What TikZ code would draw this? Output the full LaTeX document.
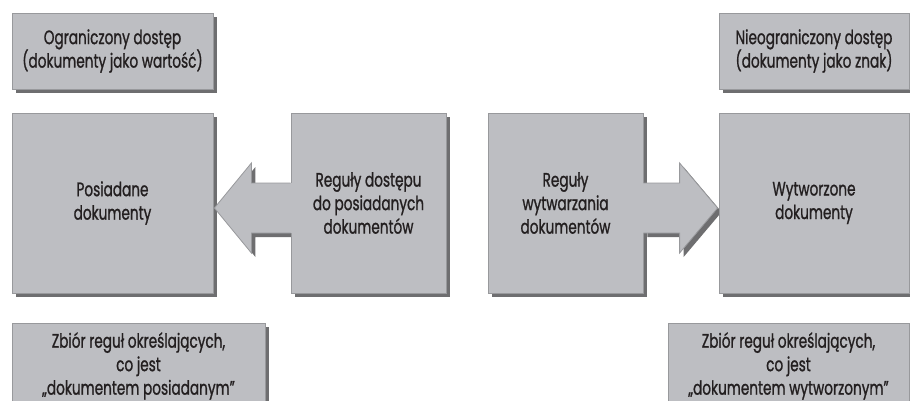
\documentclass[tikz,border=0pt]{standalone}
\usepackage{fontspec}
\setmainfont[FakeStretch=0.7, FakeBold=1]{Poppins}
\usetikzlibrary{calc,shadows}
\definecolor{boxfill}{RGB}{189,190,194}
\definecolor{boxline}{RGB}{152,153,156}
\definecolor{shadowgray}{RGB}{110,110,112}
\definecolor{ink}{RGB}{35,31,32}
\pgfdeclarelayer{cien}
\pgfdeclarelayer{wierzch}
\pgfsetlayers{cien,main,wierzch}
\begin{document}
\begin{tikzpicture}[x=1pt, y=-1pt, font=\fontsize{19.5}{23.5}\selectfont,
	cienstyl/.style={drop shadow={shadow xshift=4pt, shadow yshift=-4pt, fill=shadowgray, opacity=1}},
	blok/.style={cienstyl, draw=boxline, line width=0.8pt, fill=boxfill, text=ink,
		align=center, inner sep=0pt}]
	\useasboundingbox (0,0) rectangle (910,400);
	\clip (0,0) rectangle (910,400);
	% Ramki górne
	\node[blok, minimum width=201pt, minimum height=76pt] (ogr) at (112.5,51)
		{Ograniczony dostęp\\(dokumenty jako wartość)};
	\node[blok, minimum width=190pt, minimum height=76pt] (nieogr) at (814,51)
		{Nieograniczony dostęp\\(dokumenty jako znak)};
	% Ramki środkowe
	\node[blok, minimum width=201pt, minimum height=180pt] (posiad) at (112.5,203)
		{Posiadane\\dokumenty};
	\node[blok, minimum width=155pt, minimum height=180pt] (regL) at (368.5,203)
		{Reguły dostępu\\do posiadanych\\dokumentów};
	\node[blok, minimum width=155pt, minimum height=180pt] (regR) at (565.5,203)
		{Reguły\\wytwarzania\\dokumentów};
	\node[blok, minimum width=190pt, minimum height=180pt] (wytw) at (814,203)
		{Wytworzone\\dokumenty};
	% Ramki dolne
	\node[blok, minimum width=253pt, minimum height=86pt] (zbiorL) at (138.5,366)
		{Zbiór reguł określających,\\co jest\\„dokumentem posiadanym”};
	\node[blok, minimum width=241pt, minimum height=86pt] (zbiorR) at (788.5,366)
		{Zbiór reguł określających,\\co jest\\„dokumentem wytworzonym”};
	% Punkty strzałek
	\path (posiad.east) ++(1,5) coordinate (l0) ++(37,-45) coordinate (l1) ++(0,20) coordinate (l2)
		(l0) ++(37,45) coordinate (l5) ++(0,-20) coordinate (l4);
	\path (wytw.west) ++(-1,5) coordinate (r0) ++(-38,-45) coordinate (r1) ++(0,20) coordinate (r2)
		(r0) ++(-38,45) coordinate (r5) ++(0,-20) coordinate (r4);
	% Cienie strzałek
	\begin{pgfonlayer}{cien}
		\path[cienstyl] (l0) -- (l1) -- (l2) -- (l2 -| regL.west) -- (l4 -| regL.west) -- (l4) -- (l5) -- cycle;
		\path[cienstyl] (r0) -- (r1) -- (r2) -- (r2 -| regR.east) -- (r4 -| regR.east) -- (r4) -- (r5) -- cycle;
	\end{pgfonlayer}
	% Strzałki
	\begin{pgfonlayer}{wierzch}
		\fill[boxfill] (l0) -- (l1) -- (l2) -- ($(l2 -| regL.west)+(2,0)$) -- ($(l4 -| regL.west)+(2,0)$) -- (l4) -- (l5) -- cycle;
		\draw[boxline, line width=0.8pt] (l2 -| regL.west) -- (l2) -- (l1) -- (l0) -- (l5) -- (l4) -- (l4 -| regL.west);
		\fill[boxfill] (r0) -- (r1) -- (r2) -- ($(r2 -| regR.east)+(-2,0)$) -- ($(r4 -| regR.east)+(-2,0)$) -- (r4) -- (r5) -- cycle;
		\draw[boxline, line width=0.8pt] (r2 -| regR.east) -- (r2) -- (r1) -- (r0) -- (r5) -- (r4) -- (r4 -| regR.east);
	\end{pgfonlayer}
\end{tikzpicture}
\end{document}
